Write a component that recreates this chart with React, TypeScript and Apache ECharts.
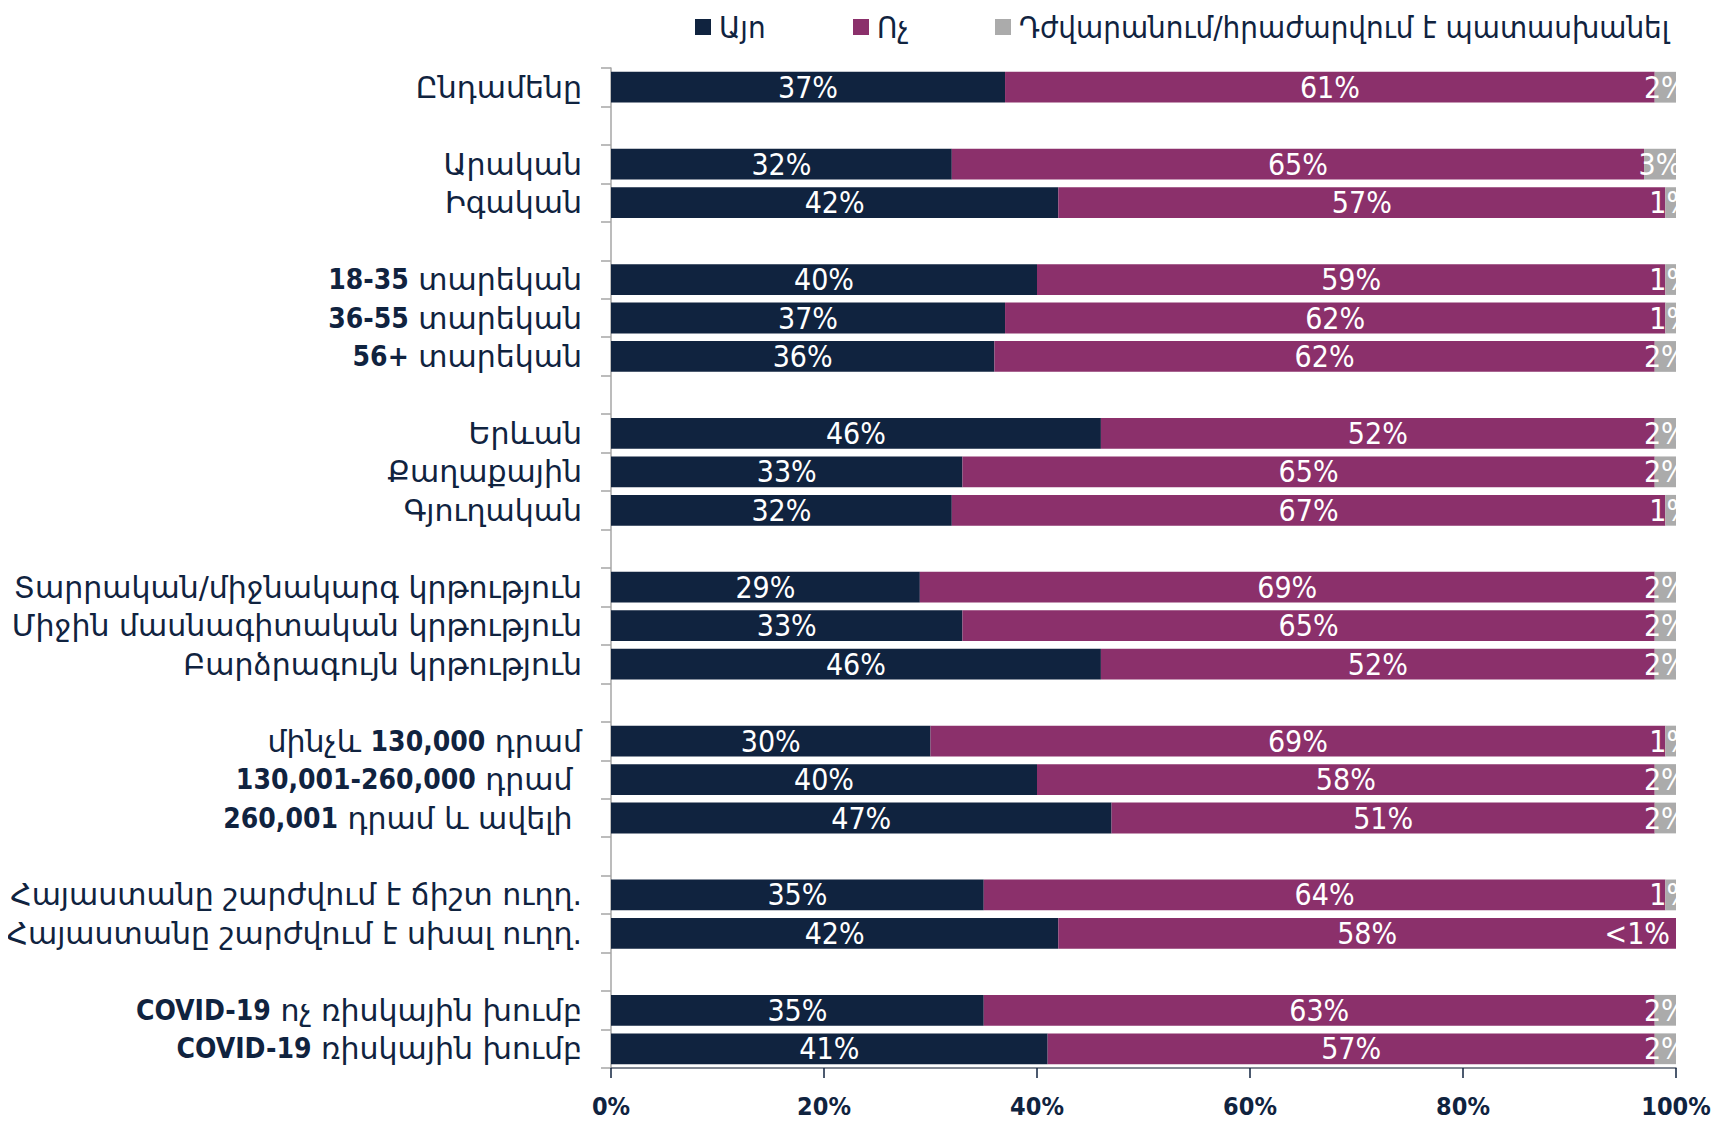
import React, { useEffect, useRef } from "react";
import * as echarts from "echarts";

const categories = [
  "Ընդամենը", "",
  "Արական", "Իգական", "",
  "18-35 տարեկան", "36-55 տարեկան", "56+ տարեկան", "",
  "Երևան", "Քաղաքային", "Գյուղական", "",
  "Տարրական/միջնակարգ կրթություն", "Միջին մասնագիտական կրթություն", "Բարձրագույն կրթություն", "",
  "մինչև 130,000 դրամ", "130,001-260,000 դրամ ", "260,001 դրամ և ավելի ", "",
  "Հայաստանը շարժվում է ճիշտ ուղղ.", "Հայաստանը շարժվում է սխալ ուղղ.", "",
  "COVID-19 ոչ ռիսկային խումբ", "COVID-19 ռիսկային խումբ",
];

const yesValues = [37, null, 32, 42, null, 40, 37, 36, null, 46, 33, 32, null, 29, 33, 46, null, 30, 40, 47, null, 35, 42, null, 35, 41];
const noValues = [61, null, 65, 57, null, 59, 62, 62, null, 52, 65, 67, null, 69, 65, 52, null, 69, 58, 51, null, 64, 58, null, 63, 57];
const dkValues = [2, null, 3, 1, null, 1, 1, 2, null, 2, 2, 1, null, 2, 2, 2, null, 1, 2, 2, null, 1, 0.4, null, 2, 2];
const lessThanOneIndex = 22;

const seriesNames = ["Այո", "Ոչ", "Դժվարանում/հրաժարվում է պատասխանել"];
const xTicks = [0, 20, 40, 60, 80, 100];

const NAVY = "#10233F";
const PURPLE = "#8B306B";
const GRAY = "#ABABAB";
const FONT = "'DejaVu Sans Condensed', 'DejaVu Sans', sans-serif";
const NARROW = "'Liberation Sans Narrow', 'DejaVu Sans Condensed', sans-serif";

export default function App() {
  const ref = useRef<HTMLDivElement>(null);
  useEffect(() => {
    if (!ref.current) return;
    const chart = echarts.init(ref.current, undefined, { renderer: "svg" });
    const GRID_LEFT = 611;
    const GRID_RIGHT = 55;
    const GRID_TOP = 68;
    const GRID_BOTTOM = 55;
    const labelBase = {
      show: true,
      color: "#ffffff",
      fontFamily: NARROW,
      fontSize: 30,
      formatter: (p: any) => `${p.value}%`,
    };
    const dkData = dkValues.map((v, i) =>
      i === lessThanOneIndex
        ? { value: v, label: { position: "left", distance: 6, formatter: "<1%" } }
        : v
    );
    const legendIconLefts = [690, 848, 990];
    const legends = seriesNames.map((name, i) => ({
      top: 5,
      left: legendIconLefts[i],
      itemWidth: 16,
      itemHeight: 16,
      icon: "rect",
      textStyle: {
        color: NAVY,
        fontSize: 31,
        lineHeight: 34,
        fontFamily: FONT,
        padding: [0, 0, 0, 3],
      },
      data: [name],
    }));
    chart.setOption({
      animation: false,
      textStyle: { fontFamily: FONT },
      legend: legends,
      grid: { left: GRID_LEFT, right: GRID_RIGHT, top: GRID_TOP, bottom: GRID_BOTTOM, containLabel: false },
      xAxis: {
        type: "value",
        min: 0,
        max: 100,
        interval: 20,
        axisLine: { show: true, lineStyle: { color: "#5A6270", width: 1.5 } },
        axisTick: { show: true, length: 10, lineStyle: { color: NAVY, width: 1.5 } },
        splitLine: { show: false },
        axisLabel: {
          color: NAVY,
          fontSize: 25,
          fontWeight: "bold",
          fontFamily: FONT,
          margin: 26,
          formatter: (v: number) => (xTicks.includes(v) ? `${v}%` : ""),
        },
      },
      yAxis: {
        type: "category",
        inverse: true,
        data: categories,
        axisLine: { show: true, lineStyle: { color: "#A6A6A6", width: 1.5 } },
        axisTick: { show: true, length: 10, interval: 0, lineStyle: { color: "#A6A6A6", width: 1.5 } },
        axisLabel: {
          interval: 0,
          color: NAVY,
          fontSize: 30,
          fontWeight: "normal",
          fontFamily: "'DejaVu Sans', sans-serif",
          margin: 29,
          formatter: (s: string) => s.replace(/([0-9A-Za-z,+\-]+)/g, "{b|$1}"),
          rich: {
            b: {
              color: NAVY,
              fontSize: 28,
              fontWeight: "bold",
              fontFamily: FONT,
            },
          },
        },
      },
      series: [
        {
          name: seriesNames[0],
          type: "bar",
          stack: "total",
          barWidth: "80%",
          itemStyle: { color: NAVY },
          label: { ...labelBase, position: "inside" },
          data: yesValues,
        },
        {
          name: seriesNames[1],
          type: "bar",
          stack: "total",
          barWidth: "80%",
          itemStyle: { color: PURPLE },
          label: { ...labelBase, position: "inside" },
          data: noValues,
        },
        {
          name: seriesNames[2],
          type: "bar",
          stack: "total",
          barWidth: "80%",
          itemStyle: { color: GRAY },
          label: { ...labelBase, position: "inside" },
          data: dkData,
        },
      ],
      graphic: [
        {
          type: "rect",
          z: 100,
          shape: { x: 1731 - GRID_RIGHT + 1, y: GRID_TOP, width: 60, height: 1123 - GRID_TOP - GRID_BOTTOM - 1 },
          style: { fill: "#ffffff" },
        },
      ],
    });
    return () => chart.dispose();
  }, []);
  return <div ref={ref} style={{ width: 1731, height: 1123, margin: -8 }} />;
}
